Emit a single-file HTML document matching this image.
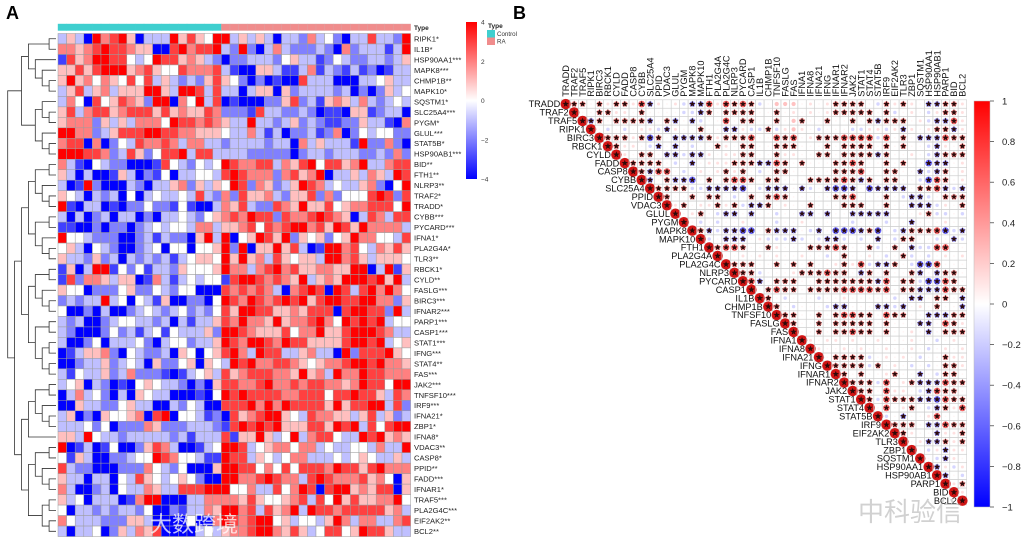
<!DOCTYPE html>
<html><head><meta charset="utf-8">
<style>
html,body{margin:0;padding:0;background:#fff;}
svg{display:block;font-family:"Liberation Sans",Arial,sans-serif;}
</style></head>
<body>
<svg id="fig" width="1024" height="542" viewBox="0 0 1024 542" xmlns="http://www.w3.org/2000/svg">
<text x="6" y="19" font-size="18" font-weight="bold">A</text>
<text x="513" y="19" font-size="18" font-weight="bold">B</text>
<g id="heatA"></g>
<g id="dendro"></g>
<g id="legA"></g>
<g id="corrB"></g>
<g id="legB"></g>
<text x="150" y="532" font-size="22" fill="#ffffff" opacity="0.75" font-family="'Liberation Sans','Noto Sans CJK SC',sans-serif">大数跨境</text>
<text x="858" y="521" font-size="26" fill="#9a9a9a" opacity="0.45" font-family="'Liberation Sans','Noto Sans CJK SC',sans-serif">中科验信</text>
</svg>
<script>
// ---------- Panel A data ----------
const heatGenes = ["RIPK1*","IL1B*","HSP90AA1***","MAPK8***","CHMP1B**","MAPK10*","SQSTM1*","SLC25A4***","PYGM*","GLUL***","STAT5B*","HSP90AB1***","BID**","FTH1**","NLRP3**","TRAF2*","TRADD*","CYBB***","PYCARD***","IFNA1*","PLA2G4A*","TLR3**","RBCK1*","CYLD**","FASLG***","BIRC3***","IFNAR2***","PARP1***","CASP1***","STAT1***","IFNG***","STAT4**","FAS***","JAK2***","TNFSF10***","IRF9***","IFNA21*","ZBP1*","IFNA8*","VDAC3**","CASP8*","PPID**","FADD***","IFNAR1*","TRAF5***","PLA2G4C***","EIF2AK2**","BCL2**"];
const sampleGroups = ["Control","RA"];
const groupSizes = [19,22];
const exprControl = ["3530867850333857548","6656787765500786778","1756887743487756532","5575788856754476667","5856465474735323257","3573563555885388737","3640745765288064837","5736775677757565576","5666253536664877676","8866235777887766555","6770602437667636633","8887762375247783773","6310432200017432434","5303001530214033443","3018200032033562535","5430323040343343732","8103301022422141003","3030230330203343245","1100202202343443663","8443222002313220583","4530432002340440445","5332523032323134554","1503881424133254445","1726653550163134344","5440222452243244000","2323383404315002204","4002030023432342324","3230023443323031335","3200024231341433352","3002403334203442335","0135562043223054045","0023352343052245054","3143352362221013453","3450320104543320205","0363420305433000104","0053322453300324300","3502054456078044312","3334240222652223332","5538433233333231333","8013014002576300134","4153002234487644311","7322000222643240005","5330330437543454200","6300230433653377788","5340333016880003366","4033232332400213365","6433322255300004006","3033402536570000343"];
const exprRA = ["8353530332634203373328","3282036322232062333138","0223332453312432233235","3100553113613213120133","5420201007333000334533","3303550523333230202534","0100022572315653632343","2221733223201105512330","5338332352321122533106","4336313022312602434422","2333323306353331822620","3332222202332333223262","8766773657847756833677","7876662675680335365387","4872652358763433562048","6275563255726244478727","6573227658557456677748","6768772766787650376377","5567476788675875866663","8045875825452458664437","8280558573018867436575","8585637545538867535554","8663678675566558803815","1788767658356588878583","7676763067870873786864","8768767878578877886625","7588775565777078877283","7686658566786487878344","8876555746685578887633","8768876877555578878345","7863877335633082777854","3878667765456678878665","7567776658563866877666","7766786676776656877488","8787777667774778775376","7778686877775857788372","0756788543766553573523","1787878555775878374788","7155853483677433878565","8873456646634334436338","8773543466333434543353","8877464747776877578666","8866787663787666756405","8446337468707885657705","6657544567374857556684","8867375683877677777563","8767884534435863663367","5667886575347745877533"];
const heatTicks = [4,2,0,-2,-4];

// ---------- Panel B data ----------
const corrGenes = ["TRADD","TRAF2","TRAF5","RIPK1","BIRC3","RBCK1","CYLD","FADD","CASP8","CYBB","SLC25A4","PPID","VDAC3","GLUL","PYGM","MAPK8","MAPK10","FTH1","PLA2G4A","PLA2G4C","NLRP3","PYCARD","CASP1","IL1B","CHMP1B","TNFSF10","FASLG","FAS","IFNA1","IFNA8","IFNA21","IFNG","IFNAR1","IFNAR2","JAK2","STAT1","STAT4","STAT5B","IRF9","EIF2AK2","TLR3","ZBP1","SQSTM1","HSP90AA1","HSP90AB1","PARP1","BID","BCL2"];
const corrRows = ["rr.rqrrqRBq.qbBBRqRrRrb.ppp.q.qrrrr.brqrq.BBrrq","..rrqq.r....bbBr.rrrr..r.q.q.qrrrrr.rb.q.bqrrq","Br.rrrrB.rB.Bb..R.rr..r.pr..r..r.rBrrr.qbBBRq",".b.b.qqbBq..r..BBqbbrbqpq.b...bbqqbqBq.qrrBq","rrrqrNr.BBBBrqrrrR..RrR.qrrrRRRRbR.r.BBBRrr","rqq.bB.B.b..rq.rr..rrr...r.rrrr.r.r..bBq.r","q.rr.BBbBBq.qqrr..rqq..rr.rrrrBr..q.bBrrr","rrrr.b.B.qqqrrrBBRr.r...rrRr..r.r..NBB.q","rBRR.b.q.qrqr.b.rr.....rrrR..rr..BbBr.q","B.rBBN.r.rRRr.rr...rrrrRrBr.rr..bNRr.q","rrrrbbBBBBN.bBBB.Bb.BNNB.NBBBB.rrRBbB","r..r.rr.b.r.rRr.....rrR...r.bBBb.rrr","qr.qqrqrbBBr.q..r...rrr..r..BBBbq.r",".qr.bBB.B..b..BB.B..BBBBB...qrbb.b",".b.b..q...b..q.....b...b..B...q..","rBbBBNN.rBBB.bB.NNNBrN.bBrrrRNbB","b.BBB.qbbbBb.bBBb.b.B.brr..b.Bb","rRRr..rq...rrrRr..rb.r.BbbRR..","..q.q.q..q..b.r..q.b.rb.b.q.q","rrr..r.r.r..qrqRbBBr.bNNR...","rrb...qrrrRrr.Br.r..rB.Brr.","RB.rrr..rrrrrrrBR.rrbNNRr.",".rRrr.rrrrRRRRrR.rrBBBRrr","r.b...b..q.....b.BB.rr.B","r.b...bBB...BBbB.q.r..B","rr..r.rRRrr.Rrr..BBBrr","r..r.rrrrr.r...BB.Rrq","..r.rrRrr.r..q.B.rrr","q.qq.q..q...q..b.q.","q..q.q..q..q.b.q.q",".rrrrb.q.q.b..rqq","rrrrbr.q.b.b.rrq","r.r..qr..B.brr.","rrrbR.qrBBBRrr","rr.Rqq.bBRrr.","rbRrrrBBNRrr",".R.qr.bBrqR","b.B..qR...","rrr.BBRrr","rq..Bqqr",".qBBrqr",".bqBqq",".bBq.","Bqbq","B.b","qr","q",""];
const codeValues = {R:0.6,r:0.42,p:0.24,q:0.12,".":0.04,b:-0.16,B:-0.42,N:-0.6};
const corrTicks = [1,0.8,0.6,0.4,0.2,0,-0.2,-0.4,-0.6,-0.8,-1];

const NS="http://www.w3.org/2000/svg";
function mk(tag,attrs,parent){const e=document.createElementNS(NS,tag);for(const k in attrs)e.setAttribute(k,attrs[k]);parent.appendChild(e);return e;}
function lerp(a,b,t){return Math.round(a+(b-a)*t);}
function divColor(v){
  v=Math.max(-1,Math.min(1,v));
  if(v>=0){return `rgb(255,${lerp(255,0,v)},${lerp(255,0,v)})`;}
  const t=-v;return `rgb(${lerp(255,0,t)},${lerp(255,0,t)},255)`;
}

// ---------- Panel A ----------
const A={x0:58,y0:33.5,cw:8.6,rh:10.48};
const nCols=groupSizes[0]+groupSizes[1];
function colX(j){return A.x0+j*A.cw;}
function rowY(i){return A.y0+i*A.rh;}
const heat=document.getElementById('heatA');
for(let j=0;j<nCols;j++){
  const grp=j<groupSizes[0]?0:1;
  const r=mk('rect',{x:colX(j),y:24,width:A.cw,height:6.5,fill:grp===0?'#3FCFCF':'#F08C8C',stroke:grp===0?'#3FCFCF':'#d9a0a0','stroke-width':0.4},heat);
  
  
}
const tl=mk('text',{x:414,y:30,'font-size':6.5,'font-weight':'bold',fill:'#222'},heat);tl.textContent='Type';


for(let i=0;i<heatGenes.length;i++){
  let s=((exprControl[i]||'')+'4'.repeat(19)).slice(0,groupSizes[0])+((exprRA[i]||'')+'4'.repeat(22)).slice(0,groupSizes[1]);
  for(let j=0;j<nCols;j++){
    const lv=(parseInt(s[j])-4)/4;
    const c=mk('rect',{x:colX(j),y:rowY(i),width:A.cw,height:A.rh,fill:divColor(lv),stroke:'#9c9c9c','stroke-width':0.5},heat);
    
    
  }
  const t=mk('text',{x:414,y:rowY(i)+A.rh/2+2.7,'font-size':7.6,fill:'#222'},heat);
  t.textContent=heatGenes[i];
  
  
}
const tree=[[[[0,1],[2,[3,[4,5]]]],[[6,[7,8]],[9,[10,11]]]],
 [[[[[12,13],[14,[15,16]]],[[17,18],[19,[20,21]]]],[[[22,23],[24,[25,26]]],[[27,28],[[29,30],[31,32]]]]],
  [[[[33,34],[35,[36,37]]],38],[[[39,40],[41,[42,43]]],[[44,45],[46,47]]]]]];
const dg=document.getElementById('dendro');
function drawNode(n){
  if(typeof n==='number')return {y:rowY(n)+A.rh/2,h:0};
  const a=drawNode(n[0]),b=drawNode(n[1]);
  const h=Math.max(a.h,b.h)+1;
  const x=56-h*6.9,xa=56-a.h*6.9,xb=56-b.h*6.9;
  const p=mk('path',{d:`M${xa},${a.y}H${x}V${b.y}H${xb}`,fill:'none',stroke:'#333','stroke-width':0.8},dg);
  
  
  return {y:(a.y+b.y)/2,h:h};
}
drawNode(tree);
const lg=document.getElementById('legA');
const gd=mk('defs',{},lg);
const lgr=mk('linearGradient',{id:'gA',x1:0,y1:0,x2:0,y2:1},gd);
mk('stop',{offset:'0','stop-color':'#ff0000'},lgr);mk('stop',{offset:'0.5','stop-color':'#ffffff'},lgr);mk('stop',{offset:'1','stop-color':'#0000ff'},lgr);
const cbA=mk('rect',{x:466,y:22,width:11,height:157,fill:'url(#gA)'},lg);


heatTicks.forEach(v=>{
  const y=22+(4-v)/8*157;
  const t=mk('text',{x:481,y:y+2.5,'font-size':6.5,fill:'#333'},lg);
  t.textContent=v<0?'\u2212'+(-v):String(v);
  
  
});
const lt=mk('text',{x:488,y:28,'font-size':6.5,'font-weight':'bold',fill:'#222'},lg);lt.textContent='Type';


[['#3FCFCF','Control'],['#F08C8C','RA']].forEach((d,k)=>{
  const r=mk('rect',{x:487,y:30+k*7.5,width:8,height:7.5,fill:d[0]},lg);
  
  
  const t=mk('text',{x:497,y:36+k*7.5,'font-size':6.2,fill:'#333'},lg);t.textContent=d[1];
  
  
});

// ---------- Panel B ----------
const B={x0:561.5,y0:99.8,c:8.44};
const N=corrGenes.length;
const cg=document.getElementById('corrB');
function cx(j){return B.x0+(j+0.5)*B.c;}
function cy(i){return B.y0+(i+0.5)*B.c;}
function star(x,y,r,parent){
  let d='';for(let k=0;k<10;k++){const a=-Math.PI/2+k*Math.PI/5;const rr=k%2?r*0.42:r;d+=(k?'L':'M')+(x+rr*Math.cos(a)).toFixed(2)+','+(y+rr*Math.sin(a)).toFixed(2);}
  const p=mk('path',{d:d+'Z',fill:'#2b0a0a'},parent);
  
  
}
for(let i=0;i<N;i++){
  const row=corrRows[i]||'';
  for(let j=i;j<N;j++){
    const cell=mk('rect',{x:B.x0+j*B.c,y:B.y0+i*B.c,width:B.c,height:B.c,fill:'none',stroke:'#cfcfcf','stroke-width':0.6},cg);
    
    
    let v,sig;
    if(j===i){v=1;sig=true;}else{const ch=row[j-i-1]||'.';v=codeValues[ch]!==undefined?codeValues[ch]:0;sig='RrBN'.includes(ch);}
    const rad=Math.sqrt(Math.abs(v))*(j===i?5.2:4.3);
    let col=divColor(v);
    if(j===i)col='#d01515';
    const c=mk('circle',{cx:cx(j),cy:cy(i),r:rad,fill:col},cg);
    
    
    if(sig)star(cx(j),cy(i),3.4,cg);
  }
  const rl=mk('text',{x:cx(i)-5.5,y:cy(i)+3.2,'font-size':9.2,'text-anchor':'end',fill:'#111'},cg);
  rl.textContent=corrGenes[i];
  
  
  const cl=mk('text',{x:0,y:0,'font-size':9.2,fill:'#111',transform:`translate(${cx(i)+3.2},${B.y0-3}) rotate(-90)`},cg);
  cl.textContent=corrGenes[i];
  
  
}
const lb=document.getElementById('legB');
const gd2=mk('defs',{},lb);
const lgr2=mk('linearGradient',{id:'gB',x1:0,y1:0,x2:0,y2:1},gd2);
mk('stop',{offset:'0','stop-color':'#ff0000'},lgr2);mk('stop',{offset:'0.5','stop-color':'#ffffff'},lgr2);mk('stop',{offset:'1','stop-color':'#0000ff'},lgr2);
const cbB=mk('rect',{x:974,y:101,width:16,height:406,fill:'url(#gB)',stroke:'#bbb','stroke-width':0.5},lb);


corrTicks.forEach(v=>{
  const y=101+(1-v)/2*406;
  mk('line',{x1:990,x2:994,y1:y,y2:y,stroke:'#333','stroke-width':0.7},lb);
  const t=mk('text',{x:1002,y:y+3.5,'font-size':9.5,fill:'#222'},lb);
  t.textContent=v<0?'\u2212'+(-v):String(v);
  
  
});
</script>
</body></html>
